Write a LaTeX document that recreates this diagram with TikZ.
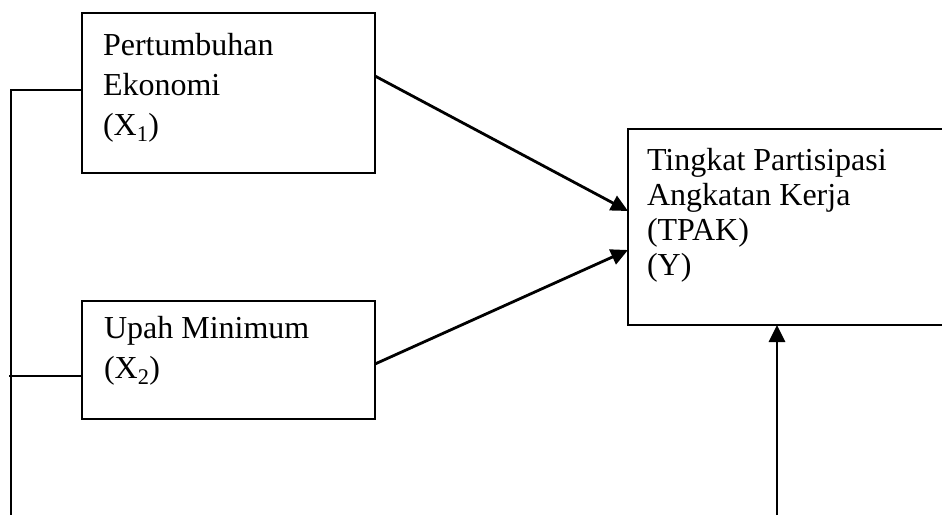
\documentclass[tikz,border=0pt]{standalone}
\usepackage{fontspec}
\setmainfont{Liberation Serif}
\usetikzlibrary{arrows.meta}
\begin{document}
\begin{tikzpicture}[x=1pt,y=-1pt,
  box/.style={draw,line width=2pt,inner sep=0pt,outer sep=0pt,anchor=north west},
  lbl/.style={anchor=base west,inner sep=0pt,outer sep=0pt,font=\fontsize{32}{36}\selectfont},
  conn/.style={line width=2pt},
  arr/.style={line width=2.8pt,-{Triangle[length=17pt,width=16pt]}}]
\useasboundingbox (0,0) rectangle (942,515);
\clip (0,0) rectangle (942,515);
% boxes
\node[box,minimum width=293pt,minimum height=160pt] (x1) at (82,13) {};
\node[box,minimum width=293pt,minimum height=118pt] (x2) at (82,301) {};
\node[box,minimum width=400pt,minimum height=196pt] (y) at (628,129) {};
% labels
\node[lbl] (x1a) at (103,55) {Pertumbuhan};
\node[lbl] (x1b) at (103,95) {Ekonomi};
\node[lbl] (x1c) at (103,135) {(X\textsubscript{1})};
\node[lbl] (x2a) at (104,338) {Upah Minimum};
\node[lbl] (x2b) at (104,378) {(X\textsubscript{2})};
\node[lbl] (ya) at (647,170) {Tingkat Partisipasi};
\node[lbl] (yb) at (647,205) {Angkatan Kerja};
\node[lbl] (yc) at (647,240) {(TPAK)};
\node[lbl] (yd) at (647,275) {(Y)};
% connectors
\coordinate (lt) at (11,90);
\coordinate (lb) at (11,515);
\coordinate (l2) at (8.5,376);
\coordinate (ybot) at (777,515);
\draw[conn] ([yshift=3pt]x1.west) -- (lt) -- (lb);
\draw[conn] ([yshift=-16pt]x2.west) -- (l2);
\draw[arr] ([yshift=17pt]x1.east) -- ([yshift=16pt]y.west);
\draw[arr] ([yshift=-4pt]x2.east) -- ([yshift=-23pt]y.west);
\draw[arr] (ybot) -- (y.south -| ybot);
\end{tikzpicture}
\end{document}
